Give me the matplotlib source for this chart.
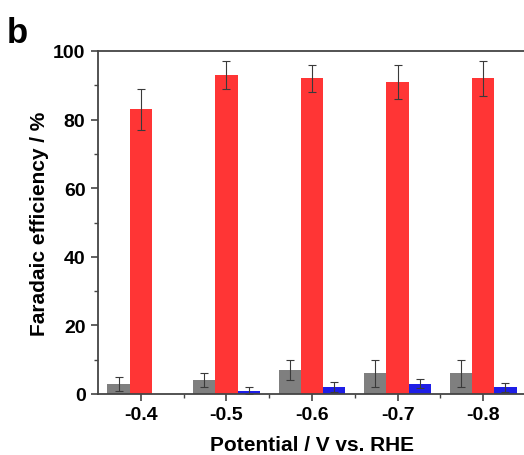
import numpy as np
import matplotlib.pyplot as plt
from matplotlib.ticker import MultipleLocator

plt.rcParams["font.family"] = ["Liberation Sans", "DejaVu Sans"]
plt.rcParams["font.weight"] = "bold"

potentials = ["-0.4", "-0.5", "-0.6", "-0.7", "-0.8"]

# Faradaic efficiencies (%) and error bars per product
fe_gray = [3, 4, 7, 6, 6]
err_gray = [2, 2, 3, 4, 4]
fe_red = [83, 93, 92, 91, 92]
err_red = [6, 4, 4, 5, 5]
fe_blue = [0, 1, 2, 3, 2]
err_blue = [0, 1, 1.4, 1.3, 1.3]

x = np.arange(1, len(potentials) + 1)
w = 0.26

fig = plt.figure(figsize=(5.24, 4.56), dpi=100)
ax = fig.add_axes([98 / 524, 61 / 456, 428 / 524, 343 / 456])

ekw = dict(ecolor="#3a3a3a", elinewidth=0.8, capsize=3, capthick=0.8)
ax.bar(x - w, fe_gray, w, color="#7f7f7f", yerr=err_gray, error_kw=ekw)
ax.bar(x, fe_red, w, color="#ff3535", yerr=err_red, error_kw=ekw)
ax.bar(x + w, fe_blue, w, color="#1e1ee6",
       yerr=[e if v > 0 else np.nan for v, e in zip(fe_blue, err_blue)], error_kw=ekw)

ax.set_xlim(0.5, 5.5)
ax.set_ylim(0, 100)
ax.set_xticks(x)
ax.set_xticklabels(potentials)
ax.set_xticks(x[:-1] + 0.5, minor=True)
ax.yaxis.set_major_locator(MultipleLocator(20))
ax.yaxis.set_minor_locator(MultipleLocator(10))

for side in ["top", "left", "bottom"]:
    ax.spines[side].set_linewidth(1.3)
    ax.spines[side].set_color("#444444")
ax.spines["right"].set_linewidth(0.8)
ax.spines["right"].set_color("#bbbbbb")
ax.tick_params(which="major", direction="out", length=5, width=1.2,
               labelsize=14, color="#444444", pad=4)
ax.tick_params(which="minor", direction="out", length=3, width=1.0, color="#444444")

ax.set_xlabel("Potential / V vs. RHE", fontsize=15, fontweight="bold", labelpad=8)
ax.set_ylabel("Faradaic efficiency / %", fontsize=15, fontweight="bold", labelpad=3)

fig.text(7 / 524, 1 - 43 / 456, "b", fontsize=25, fontweight="bold")

fig.savefig("out.png", dpi=100)
